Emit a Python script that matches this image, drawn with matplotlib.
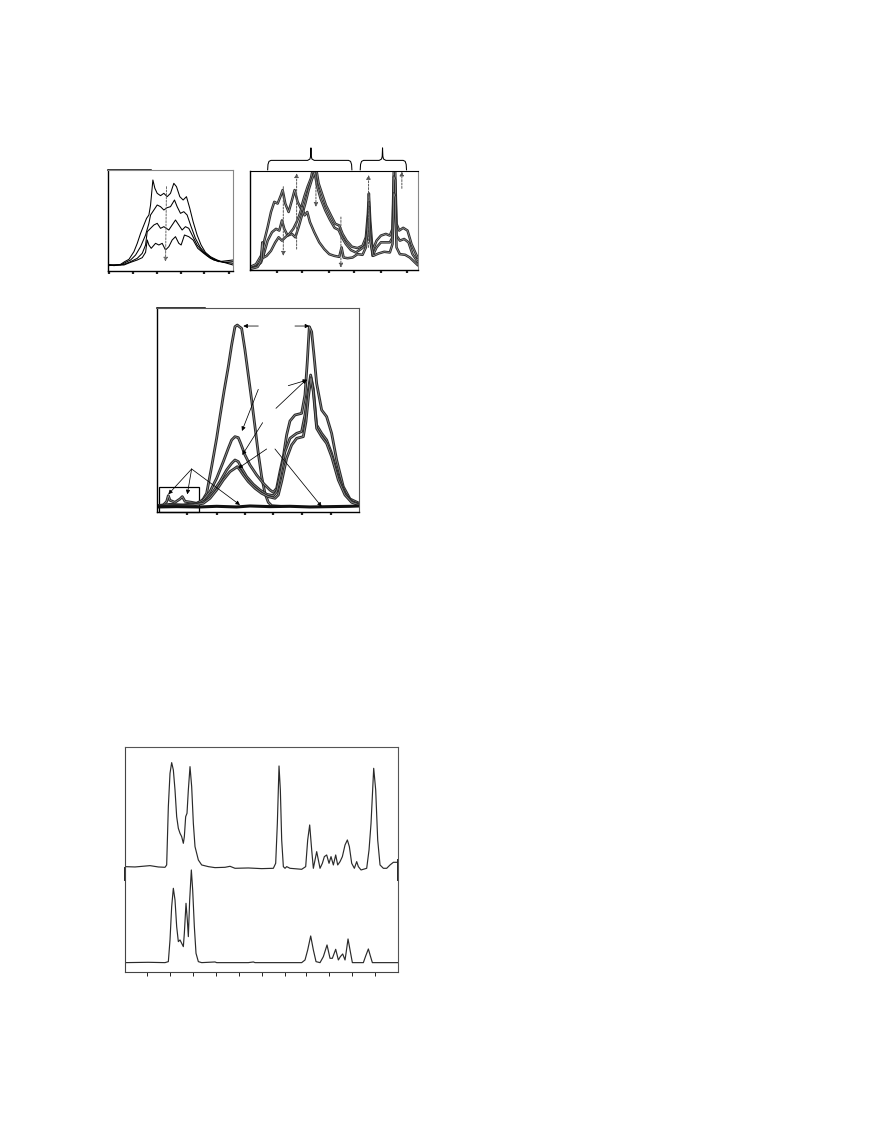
import matplotlib
matplotlib.use('Agg')
import matplotlib.pyplot as plt
from matplotlib.patches import Rectangle

# ---- panel A : four spectra (arbitrary units)
a_ticks = [15, 88, 160, 232, 302, 375]
a1 = [(12,20),(30,16),(50,20),(62,28),(75,35),(90,58),(100,83),(110,113),(120,138),(128,158),(135,168),
      (140,198),(147,273),(153,248),(160,233),(170,226),(180,233),(190,223),(200,233),(210,263),(218,253),
      (228,223),(238,213),(248,223),(258,188),(268,148),(280,108),(292,78),(305,56),(320,43),(340,33),(360,26),(388,18)]
a2 = [(12,18),(50,18),(65,26),(80,33),(95,48),(110,73),(125,108),(135,143),(140,168),(150,183),(160,198),
      (170,193),(180,183),(190,190),(200,193),(212,213),(220,193),(230,173),(240,178),(250,168),(262,133),
      (275,98),(290,70),(305,53),(325,38),(350,28),(388,23)]
a3 = [(12,16),(60,20),(80,28),(100,38),(115,53),(125,78),(130,118),(140,128),(150,138),(160,143),(170,128),
      (180,133),(195,123),(205,138),(215,153),(225,138),(235,123),(245,133),(255,128),(265,108),(280,78),
      (295,60),(310,46),(330,33),(360,26),(388,28)]
a4 = [(12,18),(60,18),(80,26),(100,33),(115,40),(125,56),(130,93),(135,78),(142,68),(155,83),(165,78),
      (175,83),(185,63),(195,73),(205,93),(215,103),(225,83),(232,78),(242,108),(255,103),(268,93),(282,68),
      (300,53),(320,38),(345,28),(388,33)]
a_arrow = (188, 253, 185, 28)

# ---- panel B : three spectra, dashed arrows, two braces
b_ticks = [92, 168, 248, 325, 405, 483]
b1 = [(12,9),(30,17),(45,42),(55,87),(65,127),(75,172),(85,202),(95,197),(105,222),(110,237),(118,197),
      (128,172),(138,207),(146,237),(155,202),(165,182),(175,217),(185,247),(195,272),(202,305),(210,305),
      (218,257),(228,227),(240,192),(255,162),(268,137),(280,132),(290,107),(302,87),(318,69),(335,65),
      (350,72),(360,97),(366,167),(369,227),(373,147),(380,57),(392,87),(405,102),(420,107),(432,102),
      (440,122),(444,305),(448,292),(452,137),(460,117),(472,125),(485,117),(497,77),(515,37)]
b2 = [(12,5),(30,9),(45,22),(55,52),(65,87),(78,112),(90,122),(100,117),(108,147),(115,122),(125,102),
      (138,107),(148,97),(158,127),(168,162),(178,197),(188,237),(198,269),(206,289),(214,247),(224,212),
      (238,177),(252,149),(266,125),(278,119),(288,97),(300,77),(315,59),(330,52),(345,62),(358,72),
      (365,117),(369,202),(373,112),(380,42),(392,67),(405,82),(420,82),(432,82),(440,97),(444,277),
      (448,267),(452,102),(462,87),(475,92),(488,82),(500,47),(515,25)]
b3 = [(12,3),(35,9),(45,27),(49,82),(53,37),(62,42),(75,57),(88,82),(98,97),(108,87),(118,97),(130,107),
      (142,122),(152,142),(160,162),(168,187),(176,162),(184,172),(192,142),(205,112),(220,82),(235,62),
      (250,47),(265,42),(280,39),(287,67),(293,37),(305,35),(320,37),(335,47),(350,45),(360,67),(366,127),
      (369,187),(373,87),(382,42),(398,49),(415,54),(432,52),(440,77),(444,227),(448,217),(452,67),
      (462,47),(478,45),(492,37),(515,15)]
b_arrows = [(112, 247, 42), (152, 62, 287), (210, 287, 187), (285, 157, 7), (368, 67, 282), (468, 242, 292)]
b_braces = [(65, 318, 195), (343, 482, 410)]

# ---- panel C : five traces with annotation arrows
c_ticks = [112, 200, 286, 370, 456, 543]
c1 = [(22,20),(40,22),(50,32),(55,50),(60,36),(75,30),(90,40),(97,47),(105,33),(125,30),(140,27),(150,30),
      (160,40),(170,57),(185,137),(200,222),(210,287),(222,362),(235,437),(245,502),(255,557),(262,562),
      (268,557),(275,552),(285,487),(295,412),(305,337),(315,257),(325,177),(335,107),(345,57),(355,30),
      (365,20),(390,18)]
c2 = [(22,19),(60,24),(100,22),(140,27),(160,37),(180,62),(200,102),(220,152),(235,192),(245,217),(255,227),
      (265,224),(272,207),(285,172),(300,142),(320,112),(340,87),(360,67),(370,60),(380,72),(390,122),
      (400,167),(410,232),(420,274),(435,292),(455,297),(465,352),(472,452),(478,557),(485,542),(492,472),
      (500,387),(515,307),(530,287),(545,237),(560,157),(580,77),(600,40),(628,27)]
c3 = [(22,18),(120,22),(150,27),(170,37),(190,62),(210,92),(230,127),(245,147),(255,157),(265,152),(275,132),
      (290,107),(310,84),(330,67),(350,54),(370,50),(380,62),(390,107),(405,182),(420,222),(440,237),
      (455,242),(465,292),(475,367),(482,412),(490,372),(500,262),(515,237),(530,217),(545,177),(565,107),
      (585,57),(605,32),(628,24)]
c4 = [(22,17),(130,22),(160,27),(180,42),(200,67),(220,97),(240,122),(255,132),(262,137),(270,127),(280,112),
      (295,92),(315,72),(335,57),(355,47),(375,42),(385,52),(395,92),(410,162),(425,202),(440,222),
      (460,227),(468,272),(476,352),(483,404),(490,362),(500,252),(515,227),(530,207),(545,167),(565,97),
      (585,52),(605,30),(628,22)]
c5 = [(22,16),(80,17),(150,16),(200,18),(260,16),(300,19),(360,17),(420,18),(480,16),(540,17),(600,18),(628,19)]
c_arrows = [((325,559),(280,559)), ((435,559),(478,559)), ((325,369),(276,244)), ((338,269),(277,172)),
            ((350,190),(265,132)), ((378,312),(470,399)), ((415,380),(472,397)), ((375,190),(515,17)),
            ((125,130),(55,54)), ((125,130),(112,54)), ((125,130),(270,22))]
c_box = (28, 2, 120, 75)

# ---- panel D : two stacked chromatograms
d_ticks = [97, 165, 233, 302, 371, 440, 509, 573, 643, 712, 780]
d1 = [(30,317),(60,316),(105,320),(130,316),(150,315),(155,322),(160,497),(165,597),(170,629),(175,607),
      (180,547),(185,467),(190,432),(195,417),(200,407),(205,387),(208,407),(212,467),(216,477),(220,547),
      (225,617),(230,557),(235,447),(240,377),(250,337),(260,322),(280,317),(300,314),(330,315),(345,318),
      (360,312),(400,313),(440,311),(475,312),(482,327),(487,447),(492,619),(496,547),(500,397),(505,317),
      (510,312),(515,317),(525,312),(560,309),(572,317),(578,397),(584,442),(590,367),(595,312),(600,337),
      (605,362),(610,337),(615,312),(622,327),(628,347),(635,352),(642,327),(648,347),(655,322),(662,352),
      (668,322),(675,332),(682,347),(690,382),(697,397),(703,377),(710,327),(718,312),(725,332),(730,317),
      (738,307),(755,312),(762,367),(768,447),(776,612),(782,547),(788,397),(795,322),(805,312),(815,312),
      (825,322),(835,330),(848,330)]
d2 = [(30,29),(100,30),(150,29),(160,32),(165,97),(170,197),(175,252),(180,217),(185,137),(190,92),(195,97),
      (200,87),(205,77),(208,117),(213,207),(217,157),(220,107),(224,217),(229,307),(233,247),(238,137),
      (243,57),(250,32),(260,29),(300,31),(305,29),(400,29),(415,31),(420,29),(560,29),(570,37),(578,67),
      (587,109),(595,67),(603,32),(615,29),(625,47),(636,82),(645,42),(652,42),(662,69),(670,37),(676,47),
      (683,55),(690,37),(693,57),(699,100),(705,67),(712,29),(745,29),(752,49),(760,70),(766,49),(772,29),
      (848,29)]


def box(l, t, r, b):
    return [l / 876, 1 - b / 1140, (r - l) / 876, (b - t) / 1140]


def frame(ax, ticks, right='#888888', top='#888888', tick_len=2.5, tick_w=1.6):
    for s in ['left', 'bottom']:
        ax.spines[s].set_color('k')
        ax.spines[s].set_linewidth(1.0)
    ax.spines['right'].set_color(right)
    ax.spines['top'].set_color(top)
    ax.spines['right'].set_linewidth(0.8)
    ax.spines['top'].set_linewidth(0.8)
    ax.set_xticks(ticks)
    ax.set_yticks([])
    ax.tick_params(axis='x', direction='out', length=tick_len, width=tick_w, color='#222222',
                   labelbottom=False)


def thick(ax, pts, lw=2.0):
    # scanned look: dark edges, lighter core
    x, y = zip(*pts)
    ax.plot(x, y, color='#2a2a2a', lw=lw, solid_joinstyle='round')
    ax.plot(x, y, color='#a5a5a5', lw=0.45)


def brace(ax, x0, x1, xm, y0=297, y1=325, ytip=362):
    xs = [x0, x0 + 1, x0 + 4, x0 + 10, xm - 10, xm - 3, xm - 1, xm, xm + 1, xm + 3, xm + 10, x1 - 10, x1 - 4, x1 - 1, x1]
    ys = [y0, y1 - 12, y1 - 3, y1, y1, y1 + 4, y1 + 12, ytip, y1 + 12, y1 + 4, y1, y1, y1 - 3, y1 - 12, y0]
    ax.plot(xs, ys, color='k', lw=0.75, clip_on=False)


fig = plt.figure(figsize=(8.76, 11.4), dpi=100)

# A
axA = fig.add_axes(box(108, 170, 233, 271))
for c in [a1, a2, a3, a4]:
    x, y = zip(*c)
    axA.plot(x, y, color='k', lw=0.75)
axA.annotate('', xy=a_arrow[2:], xytext=a_arrow[:2],
             arrowprops=dict(arrowstyle='-|>', ls=(0, (2, 1.5)), color='#666666', lw=0.7,
                             mutation_scale=6, shrinkA=0, shrinkB=0))
axA.set_xlim(12, 388)
axA.set_ylim(0, 303)
frame(axA, a_ticks)
axA.plot([12, 140], [303, 303], color='k', lw=1.1, clip_on=False)

# B
axB = fig.add_axes(box(250, 170.5, 417.5, 270))
for c in [b1, b2, b3]:
    thick(axB, c, lw=1.8)
for x, y0, y1 in b_arrows:
    axB.annotate('', xy=(x, y1), xytext=(x, y0),
                 arrowprops=dict(arrowstyle='-|>', ls=(0, (2, 1.5)), color='#555555', lw=0.7,
                                 mutation_scale=6, shrinkA=0, shrinkB=0))
for x0, x1, xm in b_braces:
    brace(axB, x0, x1, xm)
axB.set_xlim(12, 515)
axB.set_ylim(0, 295)
frame(axB, b_ticks, top='k')

# C
axC = fig.add_axes(box(157.3, 307.7, 359.3, 512.3))
for c in [c1, c2, c3, c4]:
    thick(axC, c)
x, y = zip(*c5)
axC.plot(x, y, color='#111111', lw=2.2)
for tail, head in c_arrows:
    axC.annotate('', xy=head, xytext=tail,
                 arrowprops=dict(arrowstyle='-|>', color='k', lw=0.55, mutation_scale=6,
                                 shrinkA=0, shrinkB=0))
axC.add_patch(Rectangle(c_box[:2], c_box[2], c_box[3], fill=False, ec='k', lw=0.9, clip_on=False))
axC.set_xlim(22, 628)
axC.set_ylim(0, 614)
frame(axC, c_ticks, right='#555555', top='#555555')
axC.plot([22, 165], [614, 614], color='k', lw=1.1, clip_on=False)

# D
axD = fig.add_axes(box(125, 747.3, 397.7, 972.3))
for c in [d1, d2]:
    x, y = zip(*c)
    axD.plot(x, y, color='#2a2a2a', lw=0.85)
axD.set_xlim(30, 848)
axD.set_ylim(0, 675)
frame(axD, d_ticks, right='#555555', top='#555555', tick_len=3, tick_w=0.7)
for s in ['left', 'bottom']:
    axD.spines[s].set_color('#444444')
    axD.spines[s].set_linewidth(0.8)
axD.plot([30, 30], [277, 312], color='#222222', lw=1.4, clip_on=False)
axD.plot([848, 848], [277, 337], color='#222222', lw=1.4, clip_on=False)

fig.savefig('out.png', dpi=100)
